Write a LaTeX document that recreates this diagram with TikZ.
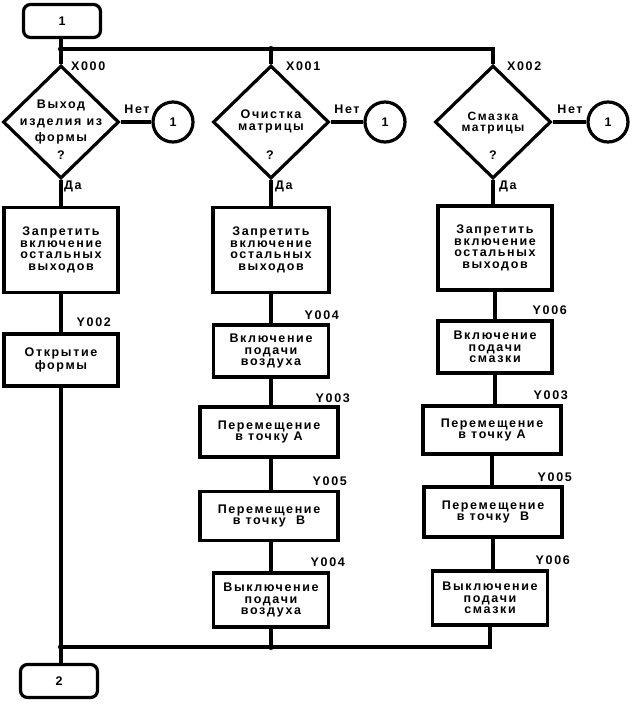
\documentclass[tikz,border=0pt]{standalone}
\usepackage{fontspec}
\usetikzlibrary{shapes.geometric}
\newfontfamily\bfont[LetterSpace=13]{Liberation Sans}
\begin{document}
\begin{tikzpicture}[x=1pt,y=-1pt]
\tikzset{
 every node/.style={font=\bfont\bfseries\fontsize{12.5}{11.6}\selectfont},
 proc/.style={draw, line width=3.2pt, align=center, inner sep=0pt},
 term/.style={draw, line width=3.2pt, rounded corners=7pt, minimum width=77pt, minimum height=33pt, inner sep=0pt},
 dec/.style={draw, diamond, line width=3.2pt, minimum width=116pt, minimum height=113pt, inner sep=0pt},
 conn/.style={draw, circle, line width=3.2pt, minimum size=40pt, inner sep=0pt},
 wire/.style={line width=3.2pt},
 lab/.style={inner sep=0pt},
 dtext/.style={inner sep=0pt, align=center, font=\bfont\bfseries\fontsize{12.5}{16.5}\selectfont},
}
\useasboundingbox (0,0) rectangle (635,705);
% terminals
\node[term] (t1) at (62,21) {1};
\node[term] (t2) at (59,681) {2};
% decisions
\node[dec] (d1) at (61,122) {};
\node[dec] (d2) at (271,122) {};
\node[dec] (d3) at (493,122) {};
\node[dtext] (d1t) at (61,122) {Выход\\изделия из\\формы};
\node[dtext] (d1q) at (61,155) {?};
\node[dtext, font=\bfont\bfseries\fontsize{12.5}{12}\selectfont] (d2t) at (271,121) {Очистка\\матрицы};
\node[dtext] (d2q) at (270,155) {?};
\node[dtext, font=\bfont\bfseries\fontsize{12}{11}\selectfont] (d3t) at (493,123) {Смазка\\матрицы};
\node[dtext] (d3q) at (493,155) {?};
% connectors circles
\node[conn] (c1) at (173,122) {1};
\node[conn] (c2) at (385,122) {1};
\node[conn] (c3) at (608,122) {1};
% column 1
\node[proc, minimum width=114pt, minimum height=85pt] (b11) at (61,250) {Запретить\\включение\\остальных\\выходов};
\node[proc, minimum width=114pt, minimum height=52pt] (b12) at (61,360) {Открытие\\формы};
% column 2
\node[proc, minimum width=116pt, minimum height=85pt] (b21) at (271,250) {Запретить\\включение\\остальных\\выходов};
\node[proc, minimum width=115pt, minimum height=52pt] (b22) at (271,351) {Включение\\подачи\\воздуха};
\node[proc, minimum width=138pt, minimum height=50pt] (b23) at (269,432) {Перемещение\\в точку А};
\node[proc, minimum width=138pt, minimum height=49pt] (b24) at (269,516) {Перемещение\\в точку\ \ В};
\node[proc, minimum width=115pt, minimum height=54pt] (b25) at (271,600) {Выключение\\подачи\\воздуха};
% column 3
\node[proc, minimum width=114pt, minimum height=84pt] (b31) at (495,248) {Запретить\\включение\\остальных\\выходов};
\node[proc, minimum width=114pt, minimum height=52pt] (b32) at (495,347) {Включение\\подачи\\смазки};
\node[proc, minimum width=138pt, minimum height=48pt] (b33) at (492,430) {Перемещение\\в точку А};
\node[proc, minimum width=138pt, minimum height=50pt] (b34) at (493,512) {Перемещение\\в точку\ \ В};
\node[proc, minimum width=115pt, minimum height=54pt] (b35) at (490,598) {Выключение\\подачи\\смазки};
% junctions
\coordinate (j1) at (61,49);
\coordinate (j1b) at (271,49);
\coordinate (j2) at (61,647);
\coordinate (j3) at (271,647);
% wires
\draw[wire] (j1 |- t1.south) -- (d1.north);
\draw[wire] (j1) -| (d3.north);
\draw[wire] (j1b) -- (d2.north);
\draw[wire] (d1.east) -- (c1.west);
\draw[wire] (d2.east) -- (c2.west);
\draw[wire] (d3.east) -- (c3.west);
\draw[wire] (d1.south) -- (b11.north);
\draw[wire] (b11.south) -- (b12.north);
\draw[wire] (b12.south) -- (j2);
\draw[wire] (j2) -- (j2 |- t2.north);
\draw[wire] (d2.south) -- (b21.north);
\draw[wire] (b21.south) -- (b22.north);
\draw[wire] (b22.south) -- (b22.south |- b23.north);
\draw[wire] (b22.south |- b23.south) -- (b22.south |- b24.north);
\draw[wire] (b22.south |- b24.south) -- (b25.north);
\draw[wire] (b25.south) -- (j3);
\draw[wire] (d3.south) -- (d3.south |- b31.north);
\draw[wire] (b31.south) -- (b32.north);
\draw[wire] (b32.south) -- (b32.south |- b33.north);
\draw[wire] (b33.south) -- (b33.south |- b34.north);
\draw[wire] (b34.south) -- (b34.south |- b35.north);
\draw[wire] (b35.south) |- (j2);
\fill (j1) circle (3);
\fill (j1b) circle (3);
\fill (j2) circle (3);
\fill (j3) circle (3);
% labels
\node[lab, anchor=west] (x0) at (71,66) {X000};
\node[lab, anchor=west] (x1) at (286,66) {X001};
\node[lab, anchor=west] (x2) at (507,66) {X002};
\node[lab] (n1) at (137,109) {Нет};
\node[lab] (n2) at (347,109) {Нет};
\node[lab] (n3) at (570,109) {Нет};
\node[lab, anchor=west] (a1) at (64,186) {Да};
\node[lab, anchor=west] (a2) at (275,186) {Да};
\node[lab, anchor=west] (a3) at (499,186) {Да};
\node[lab, anchor=east] (y1) at (111,322) {Y002};
\node[lab, anchor=east] (y2) at (339,315) {Y004};
\node[lab, anchor=east] (y3) at (350,398) {Y003};
\node[lab, anchor=east] (y4) at (347,481) {Y005};
\node[lab, anchor=east] (y5) at (345,562) {Y004};
\node[lab, anchor=east] (y6) at (567,310) {Y006};
\node[lab, anchor=east] (y7) at (568,395) {Y003};
\node[lab, anchor=east] (y8) at (572,477) {Y005};
\node[lab, anchor=east] (y9) at (570,560) {Y006};
\end{tikzpicture}
\end{document}
